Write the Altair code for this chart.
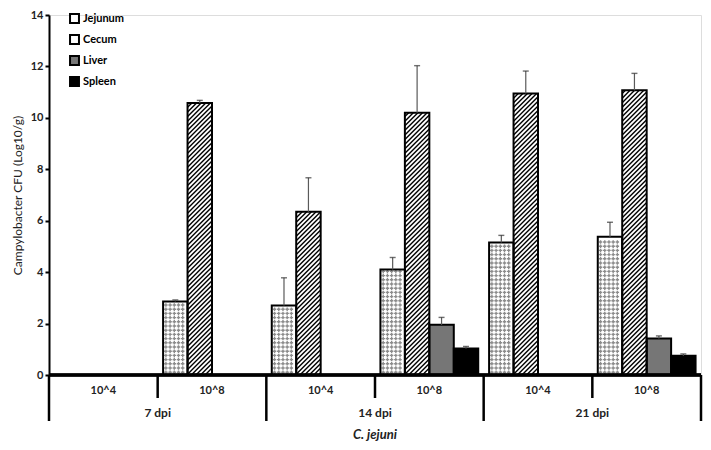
import altair as alt
import pandas as pd
import numpy as np

# ---- data ----
categories = ["7 dpi|10^4", "7 dpi|10^8", "14 dpi|10^4", "14 dpi|10^8", "21 dpi|10^4", "21 dpi|10^8"]
times = ["7 dpi", "14 dpi", "21 dpi"]
doses = ["10^4", "10^8", "10^4", "10^8", "10^4", "10^8"]
organs = ["Jejunum", "Cecum", "Liver", "Spleen"]

jejunum = [None, 2.86, 2.70, 4.10, 5.15, 5.38]
jejunum_err = [None, 0.06, 1.08, 0.47, 0.28, 0.56]
cecum = [None, 10.58, 6.35, 10.20, 10.95, 11.07]
cecum_err = [None, 0.10, 1.32, 1.83, 0.87, 0.66]
liver = [None, None, None, 1.95, None, 1.42]
liver_err = [None, None, None, 0.29, None, 0.10]
spleen = [None, None, None, 1.03, None, 0.75]
spleen_err = [None, None, None, 0.08, None, 0.07]

y_ticks = [0, 2, 4, 6, 8, 10, 12, 14]

# ---- layout ----
W, H = 652, 360
EDGE = 0.05
SLOT = (1 - 2 * EDGE) / 4
KX = W / len(categories)
KY = H / 14
FONT = "Lato"

values = {"Jejunum": (jejunum, jejunum_err), "Cecum": (cecum, cecum_err),
          "Liver": (liver, liver_err), "Spleen": (spleen, spleen_err)}

rows = []
for ci, cat in enumerate(categories):
    for oj, org in enumerate(organs):
        v, e = values[org][0][ci], values[org][1][ci]
        if v is None:
            continue
        x0 = ci + EDGE + SLOT * oj
        rows.append({"cat": cat, "organ": org, "x0": x0, "x1": x0 + SLOT,
                     "xc": x0 + SLOT / 2, "v": v, "top": v + e})
bars = pd.DataFrame(rows)

# hatch lines for Cecum
hatch = []
for _, r in bars[bars.organ == "Cecum"].iterrows():
    w = (r.x1 - r.x0) * KX
    h = r.v * KY
    s = 4.6
    for c in np.arange(-w + s / 2, h, s):
        xs, xe = max(0.0, -c), min(w, h - c)
        if xe - xs > 0.3:
            hatch.append({"hx": r.x0 + xs / KX, "hy": (xs + c) / KY,
                          "hx2": r.x0 + xe / KX, "hy2": (xe + c) / KY})
hatch = pd.DataFrame(hatch)

# dot pattern for Jejunum
dots = []
for _, r in bars[bars.organ == "Jejunum"].iterrows():
    w = (r.x1 - r.x0) * KX
    h = r.v * KY
    for X in np.arange(2.8, w - 1.5, 4.2):
        for Y in np.arange(2.8, h - 1.5, 4.2):
            dots.append({"dx": r.x0 + X / KX, "dy": Y / KY})
dots = pd.DataFrame(dots)

xscale = alt.Scale(domain=[0, len(categories)], nice=False, zero=False)
yscale = alt.Scale(domain=[0, 14], nice=False)

fill_scale = alt.Scale(domain=organs, range=["white", "white", "#767676", "black"])

base = alt.Chart(bars)

bar_fill = base.mark_bar(strokeWidth=0).encode(
    x=alt.X("x0:Q", scale=xscale, axis=None),
    x2="x1:Q",
    y=alt.Y("v:Q", scale=yscale,
            axis=alt.Axis(values=y_ticks, format="d", grid=False,
                          title="Campylobacter CFU (Log10/g)",
                          titleFont=FONT, titleFontWeight="normal", titleFontSize=12,
                          titleColor="#222222", titlePadding=6,
                          labelFont=FONT, labelFontWeight="bold", labelFontSize=11,
                          labelColor="#222222", labelPadding=2,
                          domainColor="black", domainWidth=2,
                          tickColor="black", tickWidth=2, tickSize=4)),
    y2=alt.datum(0),
    fill=alt.Fill("organ:N", scale=fill_scale,
                  legend=alt.Legend(orient="none", legendX=20, legendY=-2, title=None,
                                    symbolType="square", symbolSize=80,
                                    symbolStrokeColor="black", symbolStrokeWidth=2,
                                    labelFont=FONT, labelFontWeight="bold",
                                    labelFontSize=11, labelColor="black",
                                    rowPadding=4, padding=0, labelOffset=3)),
)

dot_layer = alt.Chart(dots).mark_point(shape="cross", filled=True, size=12,
                                       color="#8c8c8c", opacity=1).encode(
    x=alt.X("dx:Q", scale=xscale), y=alt.Y("dy:Q", scale=yscale))

hatch_layer = alt.Chart(hatch).mark_rule(color="black", strokeWidth=1.4).encode(
    x=alt.X("hx:Q", scale=xscale), x2="hx2:Q",
    y=alt.Y("hy:Q", scale=yscale), y2="hy2:Q")

bar_outline = base.mark_bar(fill="transparent", stroke="black", strokeWidth=2).encode(
    x=alt.X("x0:Q", scale=xscale), x2="x1:Q",
    y=alt.Y("v:Q", scale=yscale), y2=alt.datum(0))

err_line = base.mark_rule(color="#5a5a5a", strokeWidth=1.2).encode(
    x=alt.X("xc:Q", scale=xscale),
    y=alt.Y("v:Q", scale=yscale), y2="top:Q")

err_cap = base.mark_tick(orient="horizontal", size=6, thickness=1.4, color="#333333").encode(
    x=alt.X("xc:Q", scale=xscale), y=alt.Y("top:Q", scale=yscale))

# custom hierarchical x axis
seps = pd.DataFrame({"pos": list(range(len(categories) + 1))})
seps["long"] = seps["pos"] % 2 == 0

baseline = alt.Chart(seps).mark_rule(color="black", strokeWidth=2.5).encode(
    x=alt.datum(0, scale=xscale), x2=alt.datum(len(categories)),
    y=alt.value(H))

short_sep = alt.Chart(seps).transform_filter("!datum.long").mark_rule(
    color="black", strokeWidth=2.5).encode(
    x=alt.X("pos:Q", scale=xscale), y=alt.value(H), y2=alt.value(H + 23))

long_sep = alt.Chart(seps).transform_filter("datum.long").mark_rule(
    color="black", strokeWidth=2.5).encode(
    x=alt.X("pos:Q", scale=xscale), y=alt.value(H), y2=alt.value(H + 46))

dose_df = pd.DataFrame({"pos": [i + 0.5 for i in range(len(categories))], "dose": doses})
dose_text = alt.Chart(dose_df).mark_text(font=FONT, fontWeight="bold", fontSize=11,
                                         color="#222222", baseline="middle").encode(
    x=alt.X("pos:Q", scale=xscale), y=alt.value(H + 16), text="dose:N")

time_df = pd.DataFrame({"pos": [1.0, 3.0, 5.0], "time": times})
time_text = alt.Chart(time_df).mark_text(font=FONT, fontWeight="bold", fontSize=12,
                                         color="#222222", baseline="middle").encode(
    x=alt.X("pos:Q", scale=xscale), y=alt.value(H + 38), text="time:N")

title_text = alt.Chart(pd.DataFrame({"pos": [len(categories) / 2], "t": ["C. jejuni"]})).mark_text(
    font=FONT, fontWeight="bold", fontStyle="italic", fontSize=13,
    color="#222222", baseline="middle").encode(
    x=alt.X("pos:Q", scale=xscale), y=alt.value(H + 60), text="t:N")

chart = alt.layer(
    bar_fill, dot_layer, hatch_layer, bar_outline, err_line, err_cap,
    baseline, short_sep, long_sep, dose_text, time_text, title_text
).properties(
    width=W, height=H,
    autosize=alt.AutoSizeParams(type="none"),
    padding={"left": 41, "top": 7, "right": 2, "bottom": 66},
).configure_view(
    stroke="#8a8a8a", strokeWidth=1.6
).configure(background="white")

chart.save("out.html", embed_options={"renderer": "svg", "actions": False})
